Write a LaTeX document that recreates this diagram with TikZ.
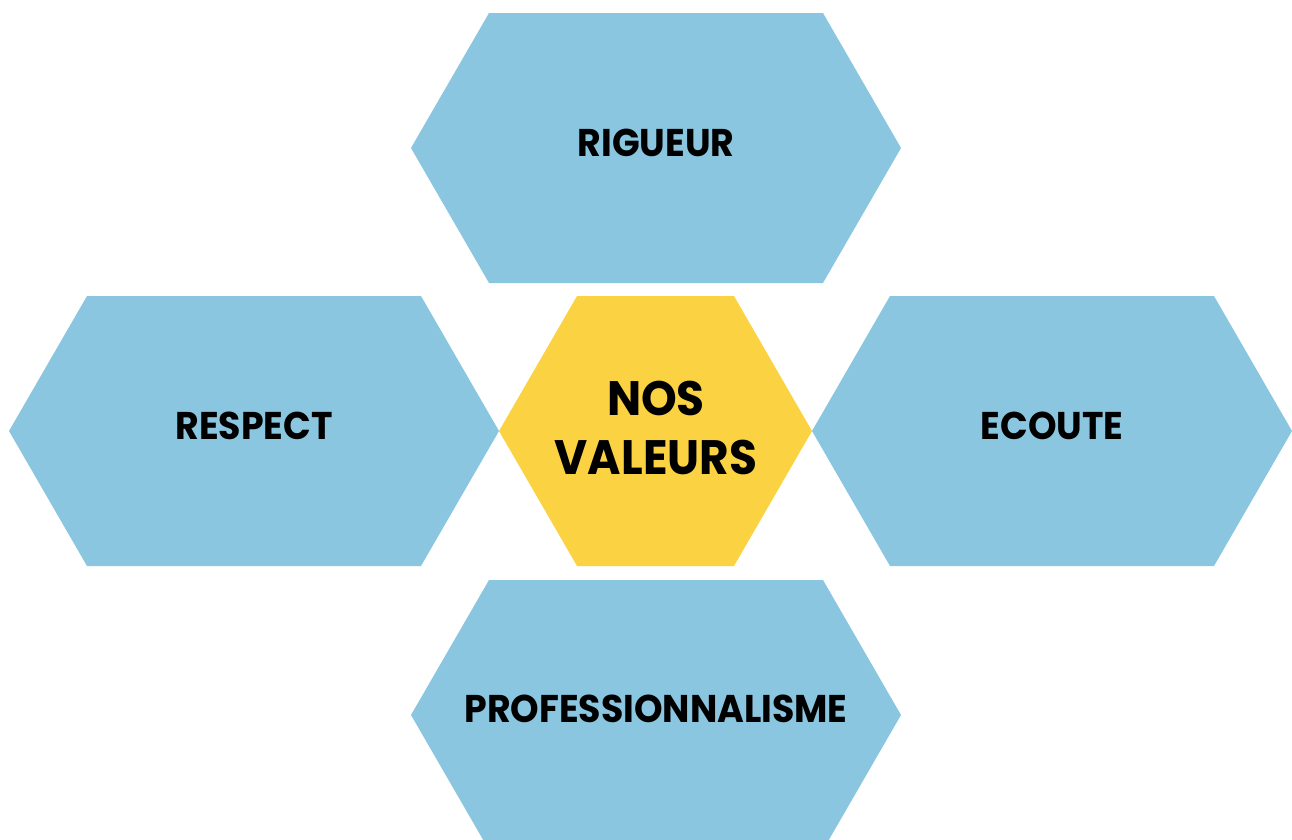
\documentclass[tikz,border=0pt]{standalone}
\usepackage{fontspec}
\setmainfont[FakeStretch=0.94]{Poppins}
\usetikzlibrary{positioning}
\definecolor{bleuciel}{HTML}{8AC6E0}
\definecolor{jaune}{HTML}{FBD342}

% hexagone : centre x, centre y, demi-largeur, demi-hauteur, retrait
\newcommand{\hexagone}[6]{%
  \fill[#6] (#1-#3,#2) -- (#1-#3+#5,#2-#4) -- (#1+#3-#5,#2-#4)
    -- (#1+#3,#2) -- (#1+#3-#5,#2+#4) -- (#1-#3+#5,#2+#4) -- cycle;}

\tikzset{
  valeur/.style={font=\bfseries\fontsize{22}{26}\selectfont, text=black, align=center},
  titre/.style={font=\bfseries\fontsize{27.5}{34}\selectfont, text=black, align=center}
}

\begin{document}
\begin{tikzpicture}[x=0.02cm, y=-0.02cm]
  \useasboundingbox (0,0) rectangle (1292,839);
  \hexagone{656}{148}{245}{135}{78}{bleuciel}
  \hexagone{254}{431}{245}{135}{78}{bleuciel}
  \hexagone{655.5}{431}{156.5}{135}{78}{jaune}
  \hexagone{1052}{431}{240}{135}{78}{bleuciel}
  \hexagone{656}{715}{245}{135}{78}{bleuciel}
  \node[titre] (Nos) at (656,428) {NOS\\VALEURS};
  \node[valeur] (Rigueur) at (656,143) {RIGUEUR};
  \node[valeur] (Respect) at (254,426) {RESPECT};
  \node[valeur] (Ecoute) at (1052,426) {ECOUTE};
  \node[valeur] (Pro) at (656,709) {PROFESSIONNALISME};
\end{tikzpicture}
\end{document}
